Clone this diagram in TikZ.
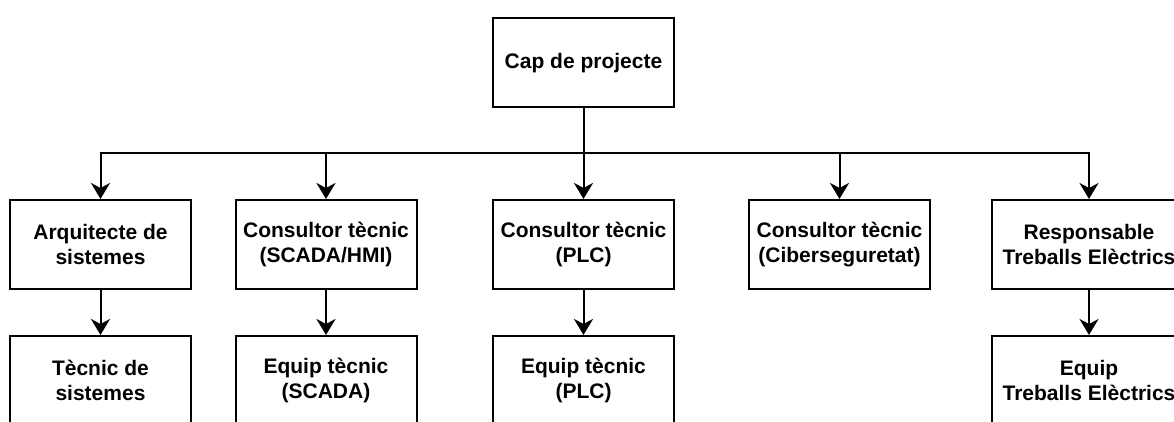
\documentclass[tikz,border=0pt]{standalone}
\usepackage{fontspec}
\setmainfont{Liberation Sans}
\usetikzlibrary{positioning,arrows.meta}
\tikzset{minimum width=90.5pt,minimum height=44.5pt}
\tikzset{role/.style={rectangle,draw,line width=1pt,align=center,font=\bfseries\fontsize{10.5}{12.5}\selectfont},
         link/.style={line width=1pt,-{Stealth[length=8pt,width=9.5pt,inset=2.5pt]}}}

\begin{document}
\begin{tikzpicture}[x=0.5pt,y=-0.5pt]
        \useasboundingbox (0,0) rectangle (1174,422);
        \node[role] (cap) at (583.5,63) {Cap de projecte};
        \node[role] (arq) at (100.5,244.5) {Arquitecte de\\sistemes};
        \node[role] (scada) at (326,244.5) {Consultor tècnic\\(SCADA/HMI)};
        \node[role] (plc) at (583.5,244.5) {Consultor tècnic\\(PLC)};
        \node[role] (cib) at (839.5,244.5) {Consultor tècnic\\(Ciberseguretat)};
        \node[role,minimum width=97pt] (elec) at (1089,244.5) {Responsable\\Treballs Elèctrics};
        \node[role,below=22.5pt of arq] (tecsis) {Tècnic de\\sistemes};
        \node[role,below=22.5pt of scada] (eqscada) {Equip tècnic\\(SCADA)};
        \node[role,below=22.5pt of plc] (eqplc) {Equip tècnic\\(PLC)};
        \node[role,minimum width=97pt,below=22.5pt of elec] (eqelec) {Equip\\Treballs Elèctrics};
        \coordinate[below=22.5pt of cap.south] (bus);
        \foreach \n in {arq,scada,plc,cib,elec}
            \draw[link] (cap.south) -- (bus) -| (\n.north);
        \draw[link] (arq) -- (tecsis);
        \draw[link] (scada) -- (eqscada);
        \draw[link] (plc) -- (eqplc);
        \draw[link] (elec) -- (eqelec);
    \end{tikzpicture}
\end{document}
